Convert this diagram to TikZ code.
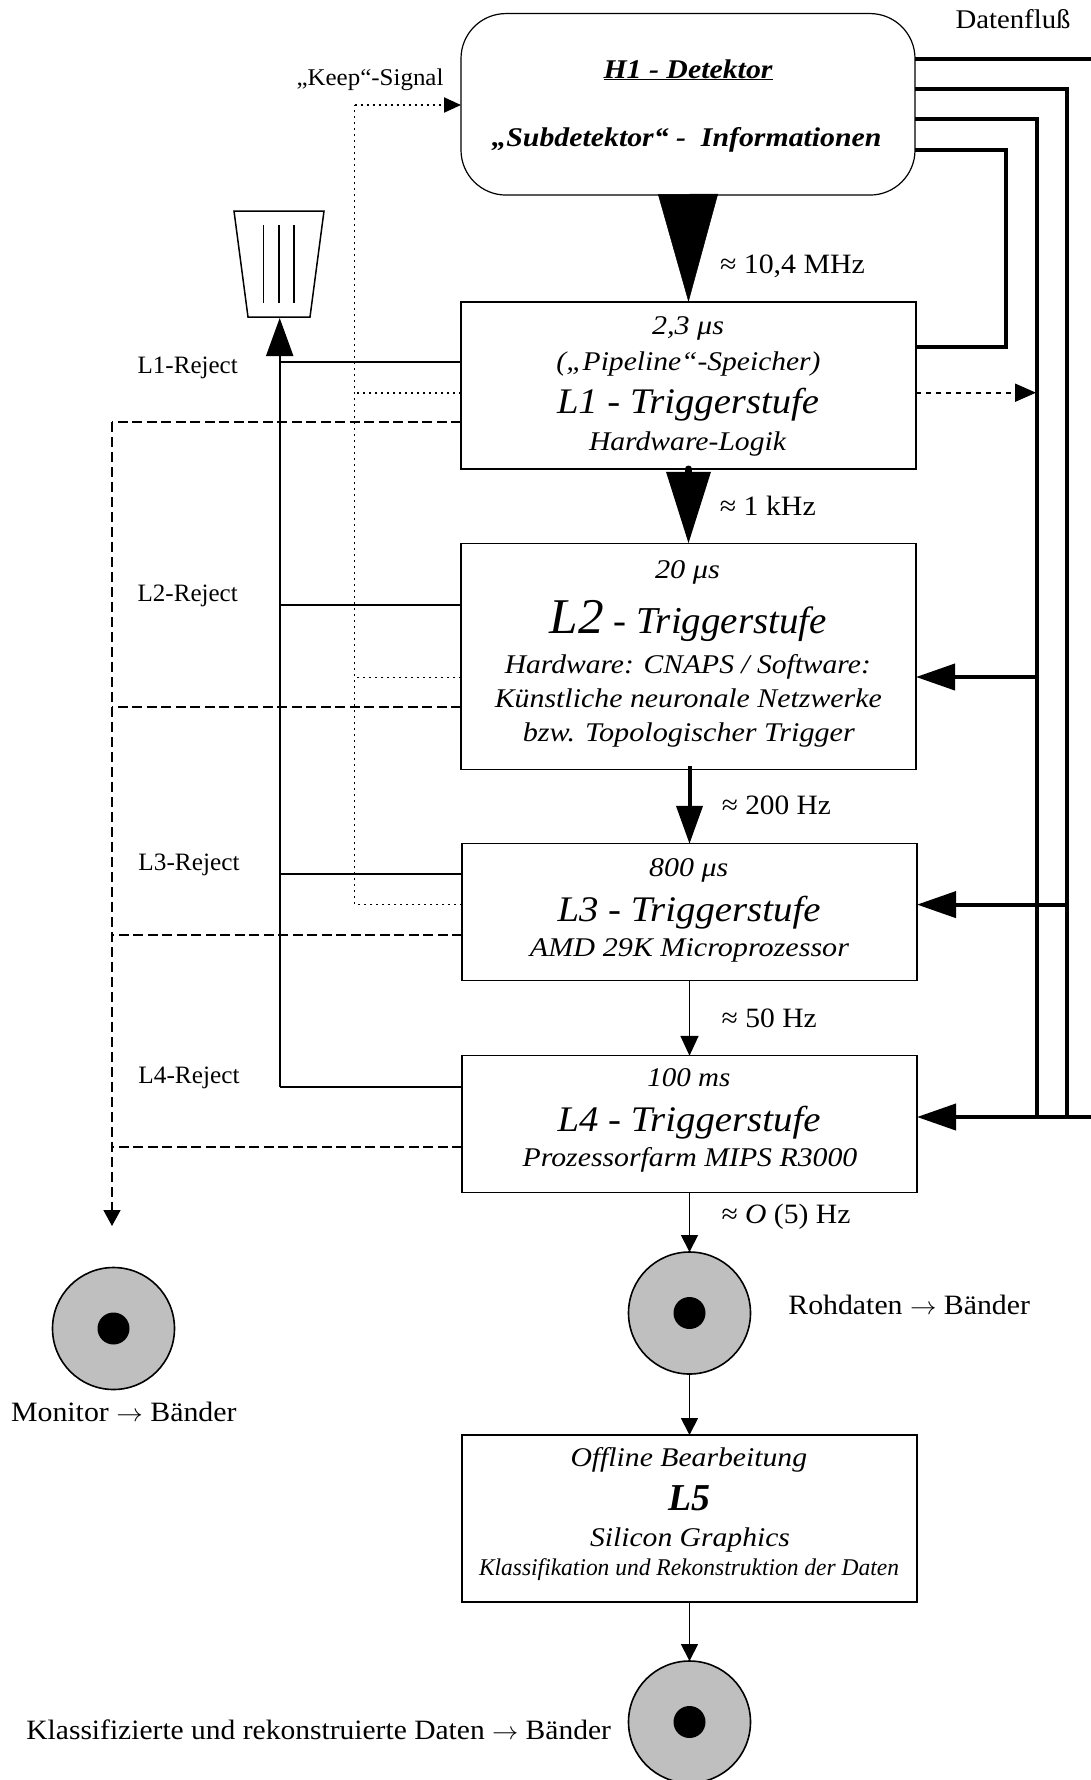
\documentclass[tikz,border=0pt]{standalone}
\usepackage{fontspec}
\usepackage{graphicx}
\setmainfont{Liberation Serif}
\usetikzlibrary{arrows.meta,calc}
\tikzset{
  box/.style={draw,rectangle,line width=1.2pt,inner sep=0pt,outer sep=0pt,minimum width=#1},
  txt/.style={anchor=base,inner sep=0pt,outer sep=0pt},
  disc/.style={draw,circle,line width=1.6pt,fill=discgray,minimum size=122pt,inner sep=0pt,outer sep=0pt},
  hub/.style={circle,fill=black,minimum size=32pt,inner sep=0pt,outer sep=0pt},
  bus/.style={line width=4pt},
  reject/.style={line width=2pt},
  dashlight/.style={line width=1.1pt,dash pattern=on 10pt off 4.5pt},
  dashh/.style={line width=1.6pt,dash pattern=on 10pt off 4.5pt},
  dashv/.style={line width=1.8pt,dash pattern=on 10pt off 5pt},
  dotthin/.style={line width=1pt,dash pattern=on 2pt off 4pt},
  dotthick/.style={line width=2pt,dash pattern=on 2.5pt off 3.5pt},
  flow/.style={line width=1.8pt},
}
\definecolor{discgray}{HTML}{BFBFBF}
\newcommand\lab[6]{\node[txt] (#1) at (#2,#3) {\resizebox{#4pt}{\height}{\fontsize{#5}{#5}\selectfont #6}};}
\begin{document}
\begin{tikzpicture}[x=1pt,y=-1pt]
\useasboundingbox (0,0) rectangle (1091,1780);
% boxes
\node[box=454pt,rounded corners=45pt,minimum height=181.5pt] (H1) at (688,104.3) {};
\node[box=455pt,minimum height=167pt] (L1) at (688.5,385.5) {};
\node[box=455pt,minimum height=225.5pt] (L2) at (688.5,656.5) {};
\node[box=455pt,minimum height=137pt] (L3) at (689.5,912.3) {};
\node[box=455pt,minimum height=136.5pt] (L4) at (689.5,1124) {};
\node[box=455pt,minimum height=167pt] (L5) at (689.5,1518.5) {};
% discs
\node[disc] (D1) at (113.5,1328.5) {};
\node[hub] (H1d) at (D1.center) {};
\node[disc] (D2) at (689.5,1313) {};
\node[hub] (H2d) at (D2.center) {};
\node[disc] (D3) at (689.5,1722) {};
\node[hub] (H3d) at (D3.center) {};
% waste bin
\draw[line width=1.5pt] (234,211) -- (324,211) -- (310,317) -- (248,317) -- cycle;
\draw[line width=1.2pt] (263.6,225) -- (263.6,303) (279,225) -- (279,303) (294,225) -- (294,303);
\coordinate (binB) at (279.7,318);
% coordinates
\coordinate (t1) at (279.7,362);
\coordinate (t2) at (279.7,605);
\coordinate (t3) at (279.7,873.7);
\coordinate (t4) at (279.7,1086.7);
\coordinate (k0) at (354.7,105);
\coordinate (k1) at (354.7,392.7);
\coordinate (k2) at (354.7,677);
\coordinate (k3) at (354.7,904);
\coordinate (d1) at (112,422);
\coordinate (d2) at (112,707);
\coordinate (d3) at (112,935);
\coordinate (d4) at (112,1147);
\coordinate (dEnd) at (112,1226);
\coordinate (b1) at (1091,59);
\coordinate (b2) at (1067,89);
\coordinate (b3) at (1037,119);
\coordinate (b4) at (1006,150);
\coordinate (b4l) at (1006,347);
\coordinate (a1) at (1036,392.7);
\coordinate (a2) at (1037,677);
\coordinate (a3) at (1067,904.6);
\coordinate (a4) at (1091,1117);
% reject tree
\draw[reject,-{Triangle[length=38pt,width=27pt]}] (t4) -- (binB);
\draw[reject] (L1.west |- t1) -- (t1);
\draw[reject] (L2.west |- t2) -- (t2);
\draw[reject] (L3.west |- t3) -- (t3);
\draw[reject] (L4.west |- t4) -- (t4);
% keep signal
\draw[dotthin] (k3) -- (k0);
\draw[dotthick,-{Triangle[length=17pt,width=15pt]}] (k0) -- (H1.west |- k0);
\draw[dotthick] (L1.west |- k1) -- (k1);
\draw[dotthin] (L2.west |- k2) -- (k2);
\draw[dotthin] (L3.west |- k3) -- (k3);
% monitor
\draw[dashlight] (L1.west |- d1) -- (d1);
\draw[dashv,-{Triangle[length=16pt,width=17pt]}] (d1) -- (dEnd);
\draw[dashlight] (L2.west |- d2) -- (d2);
\draw[dashh] (L3.west |- d3) -- (d3);
\draw[dashh] (L4.west |- d4) -- (d4);
% data flow bus
\draw[bus] (H1.east |- b1) -- (b1);
\draw[bus] (H1.east |- b2) -- (b2) -- (b2 |- a4);
\draw[bus] (H1.east |- b3) -- (b3) -- (b3 |- a4);
\draw[bus] (H1.east |- b4) -- (b4) -- (b4l) -- (L1.east |- b4l);
\draw[line width=2pt,dash pattern=on 5pt off 5pt,-{Triangle[length=21pt,width=18pt]}] (L1.east |- a1) -- (a1);
\draw[bus,-{Triangle[length=39pt,width=26pt]}] (a2) -- (L2.east |- a2);
\draw[bus,-{Triangle[length=39pt,width=26pt]}] (a3) -- (L3.east |- a3);
\draw[bus,-{Triangle[length=39pt,width=26pt]}] (a4) -- (L4.east |- a4);
% main flow
\draw[line width=0.5pt,-{Triangle[length=108pt,width=60pt]}] (H1.south) -- (L1.north);
\draw[line width=7pt,line cap=round,-{Triangle[length=72pt,width=43pt]}] (L1.south) -- (L2.north);
\draw[bus,-{Triangle[length=38pt,width=26pt]}] ([yshift=3pt]L3.north |- L2.south) -- (L3.north);
\draw[flow,-{Triangle[length=20pt,width=18pt]}] (L3.south) -- (L4.north);
\draw[flow,-{Triangle[length=17pt,width=17pt]}] (L4.south) -- (D2.north);
\draw[flow,-{Triangle[length=17pt,width=17pt]}] (D2.south) -- (L5.north);
\draw[flow,-{Triangle[length=17pt,width=17pt]}] (L5.south) -- (D3.north);
% texts
\lab{tDf}{1013}{28.3}{115}{27}{Datenfluß}
\lab{tKeep}{370}{85}{147}{24}{„Keep“-Signal}
\lab{tH}{688}{78}{169}{27}{\bfseries\itshape\underline{H1 - Detektor}}
\lab{tSub}{686.5}{146.7}{390}{27}{\bfseries\itshape „Subdetektor“ -\ \ Informationen}
\lab{tR1}{792.5}{273}{145}{28}{≈ 10,4 MHz}
\lab{tL1a}{688}{334}{72}{27}{\itshape 2,3 μs}
\lab{tL1b}{688.5}{370}{264}{27}{\itshape („Pipeline“-Speicher)}
\lab{tL1c}{688}{413}{262}{36}{\itshape L1 - Triggerstufe}
\lab{tL1d}{687.5}{450}{197}{27}{\itshape Hardware-Logik}
\lab{tRj1}{187.7}{373}{100}{25}{L1-Reject}
\lab{tRj2}{187.7}{601.7}{100}{25}{L2-Reject}
\lab{tRj3}{189}{870.6}{101}{25}{L3-Reject}
\lab{tRj4}{189}{1083}{101}{25}{L4-Reject}
\lab{tR2}{767.8}{515}{96}{28}{≈ 1 kHz}
\lab{tL2a}{687.5}{578}{65}{27}{\itshape 20 μs}
\lab{tL2b}{688.3}{633}{277}{38}{\itshape {\fontsize{50}{50}\selectfont L2} - Triggerstufe}
\lab{tL2c}{687.8}{673}{366}{27}{\itshape Hardware: CNAPS / Software:}
\lab{tL2d}{688.3}{707.7}{387}{27}{\itshape Künstliche neuronale Netzwerke}
\lab{tL2e}{688.8}{741.7}{332}{27}{\itshape bzw. Topologischer Trigger}
\lab{tR3}{776.3}{814.5}{109}{28}{≈ 200 Hz}
\lab{tL3a}{688.7}{876.7}{79}{27}{\itshape 800 μs}
\lab{tL3b}{689}{921}{263}{36}{\itshape L3 - Triggerstufe}
\lab{tL3c}{689.5}{956.7}{319}{27}{\itshape AMD 29K Microprozessor}
\lab{tR4}{769.2}{1027}{95}{28}{≈ 50 Hz}
\lab{tL4a}{688.8}{1086.7}{83}{27}{\itshape 100 ms}
\lab{tL4b}{689}{1131}{263}{36}{\itshape L4 - Triggerstufe}
\lab{tL4c}{690}{1166.7}{334.7}{27}{\itshape Prozessorfarm MIPS R3000}
\lab{tR5}{786}{1223}{129}{28}{≈ \textit{O} (5) Hz}
\lab{tRoh}{909.2}{1314.7}{241.5}{28}{Rohdaten $\rightarrow$ Bänder}
\lab{tMon}{123.8}{1421}{225.5}{28}{Monitor $\rightarrow$ Bänder}
\lab{tL5a}{688.8}{1466}{236.6}{27}{\itshape Offline Bearbeitung}
\lab{tL5b}{689}{1510}{42}{38}{\bfseries\itshape L5}
\lab{tL5c}{690}{1546}{200}{27}{\itshape Silicon Graphics}
\lab{tL5d}{689}{1575}{420}{24}{\itshape Klassifikation und Rekonstruktion der Daten}
\lab{tKl}{318.7}{1739}{584.6}{28}{Klassifizierte und rekonstruierte Daten $\rightarrow$ Bänder}
\end{tikzpicture}
\end{document}
